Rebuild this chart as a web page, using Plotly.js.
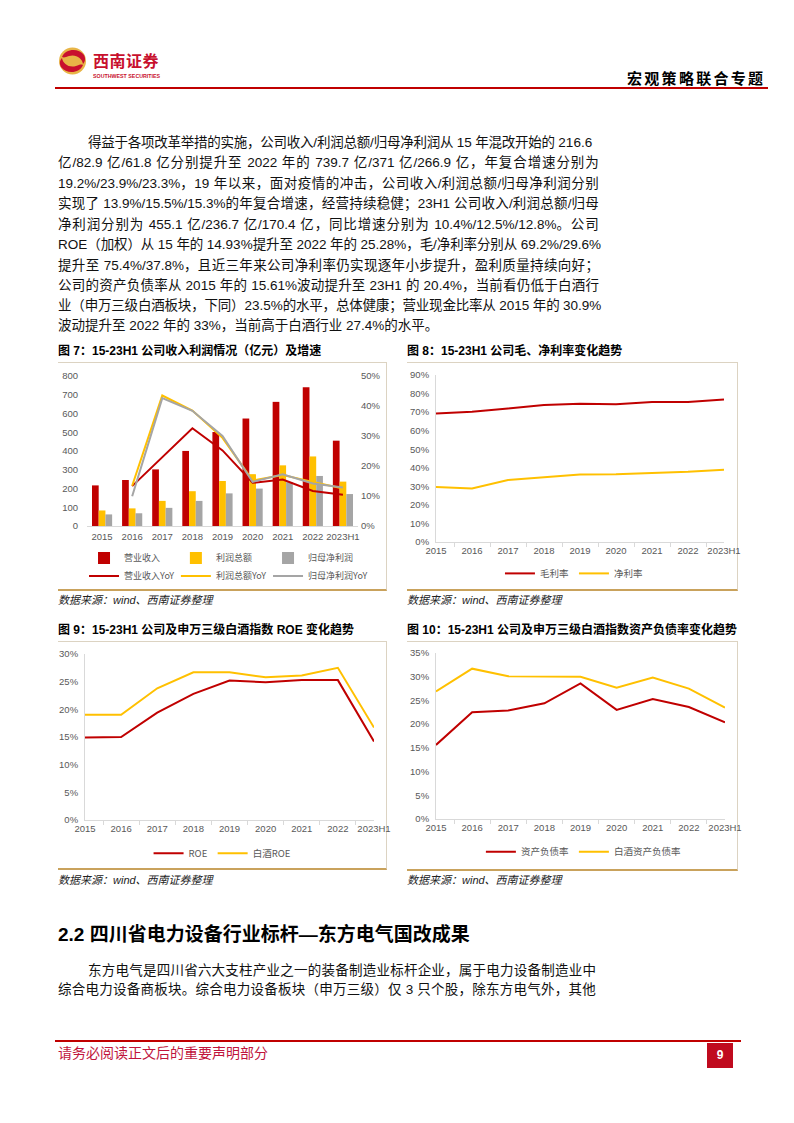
<!DOCTYPE html>
<html><head><meta charset="utf-8">
<script src="https://cdn.plot.ly/plotly-3.0.1.min.js"></script>
<style>
body{margin:0;width:794px;height:1123px;position:relative;background:#fff;overflow:hidden;font-family:"Liberation Sans","Noto Sans CJK SC",sans-serif;color:#111}
.abs{position:absolute}
.tl{position:absolute;white-space:pre;font-size:13.5px;line-height:20px;height:20px;color:#111}
.ftitle{position:absolute;white-space:pre;font-size:12px;font-weight:700;line-height:16px;color:#000;font-family:"Liberation Sans","Noto Sans CJK SC",sans-serif}
.src{position:absolute;white-space:pre;font-size:11px;font-style:italic;line-height:14px;color:#222}
.box{position:absolute;border-top:1px solid #DCD3C2;border-right:1px solid #DCD3C2;border-bottom:2px solid #C9A25C;box-sizing:border-box}
.plot{position:absolute}
</style></head>
<body>
<!-- header -->
<svg class="abs" style="left:56px;top:45px" width="110" height="36" viewBox="0 0 110 36">
  <circle cx="16.5" cy="16" r="13.5" fill="#E8B547"/>
  <path d="M6,12 C9,4 22,2 28,10 C30,14 29,17 27,19 C26,13 20,9 13,11 C10,12 8,13 6,12 Z" fill="#C8102E"/>
  <path d="M27,20 C24,28 11,30 5,22 C3,18 4,15 6,13 C7,19 13,23 20,21 C23,20 25,19 27,20 Z" fill="#C8102E"/>
  <text x="37" y="22" font-family="Noto Sans CJK SC" font-weight="700" font-size="16" fill="#C8102E" letter-spacing="0.5">西南证券</text>
  <text x="37" y="33" font-family="Liberation Sans" font-weight="700" font-size="5.3" fill="#C8102E">SOUTHWEST SECURITIES</text>
</svg>
<div class="abs" style="left:627px;top:69px;font-size:15px;font-weight:700;line-height:18px;font-family:'Noto Sans CJK SC';letter-spacing:2.3px;color:#000;white-space:pre">宏观策略联合专题</div>
<div class="abs" style="left:55px;top:87px;width:713px;height:2px;background:#C00000"></div>

<!-- paragraph 1 -->
<div class="tl fit" data-l="88" data-r="592" style="top:133px">得益于各项改革举措的实施，公司收入/利润总额/归母净利润从 15 年混改开始的 216.6</div>
<div class="tl fit" data-l="58" data-r="599" style="top:153px">亿/82.9 亿/61.8 亿分别提升至 2022 年的 739.7 亿/371 亿/266.9 亿，年复合增速分别为</div>
<div class="tl fit" data-l="58" data-r="599" style="top:174px">19.2%/23.9%/23.3%，19 年以来，面对疫情的冲击，公司收入/利润总额/归母净利润分别</div>
<div class="tl fit" data-l="58" data-r="599" style="top:194px">实现了 13.9%/15.5%/15.3%的年复合增速，经营持续稳健；23H1 公司收入/利润总额/归母</div>
<div class="tl fit" data-l="58" data-r="599" style="top:215px">净利润分别为 455.1 亿/236.7 亿/170.4 亿，同比增速分别为 10.4%/12.5%/12.8%。公司</div>
<div class="tl fit" data-l="58" data-r="601" style="top:235px">ROE（加权）从 15 年的 14.93%提升至 2022 年的 25.28%，毛/净利率分别从 69.2%/29.6%</div>
<div class="tl fit" data-l="58" data-r="599" style="top:256px">提升至 75.4%/37.8%，且近三年来公司净利率仍实现逐年小步提升，盈利质量持续向好；</div>
<div class="tl fit" data-l="58" data-r="599" style="top:276px">公司的资产负债率从 2015 年的 15.61%波动提升至 23H1 的 20.4%，当前看仍低于白酒行</div>
<div class="tl fit" data-l="58" data-r="601" style="top:296px">业（申万三级白酒板块，下同）23.5%的水平，总体健康；营业现金比率从 2015 年的 30.9%</div>
<div class="tl" style="left:58px;top:316px">波动提升至 2022 年的 33%，当前高于白酒行业 27.4%的水平。</div>

<!-- figure titles -->
<div class="ftitle" style="left:58px;top:343px">图 7：15-23H1 公司收入利润情况（亿元）及增速</div>
<div class="ftitle" style="left:407px;top:343px">图 8：15-23H1 公司毛、净利率变化趋势</div>
<div class="box" style="left:58px;top:362px;width:329px;height:229px"></div>
<div class="box" style="left:407px;top:362px;width:331px;height:229px"></div>
<div id="c7" class="plot" style="left:58px;top:362px"></div>
<div id="c8" class="plot" style="left:407px;top:362px"></div>
<div class="src" style="left:58px;top:593px">数据来源：wind、西南证券整理</div>
<div class="src" style="left:407px;top:593px">数据来源：wind、西南证券整理</div>

<div class="ftitle" style="left:58px;top:622px">图 9：15-23H1 公司及申万三级白酒指数 ROE 变化趋势</div>
<div class="ftitle" style="left:407px;top:622px">图 10：15-23H1 公司及申万三级白酒指数资产负债率变化趋势</div>
<div class="box" style="left:58px;top:641px;width:329px;height:229px"></div>
<div class="box" style="left:407px;top:641px;width:331px;height:230px"></div>
<div id="c9" class="plot" style="left:58px;top:641px"></div>
<div id="c10" class="plot" style="left:407px;top:641px"></div>
<div class="src" style="left:58px;top:873px">数据来源：wind、西南证券整理</div>
<div class="src" style="left:407px;top:873px">数据来源：wind、西南证券整理</div>

<!-- section 2.2 -->
<div class="abs" style="left:58px;top:923px;font-size:19px;font-weight:700;line-height:24px;white-space:pre;color:#000;font-family:'Liberation Sans','Noto Sans CJK SC'">2.2 四川省电力设备行业标杆—东方电气国改成果</div>
<div class="tl fit" data-l="88" data-r="596" style="top:961px">东方电气是四川省六大支柱产业之一的装备制造业标杆企业，属于电力设备制造业中</div>
<div class="tl fit" data-l="58" data-r="596" style="top:980px">综合电力设备商板块。综合电力设备板块（申万三级）仅 3 只个股，除东方电气外，其他</div>

<!-- footer -->
<div class="abs" style="left:55px;top:1040px;width:686px;height:1.5px;background:#C00000"></div>
<div class="abs" style="left:58px;top:1044px;font-size:14px;line-height:18px;color:#C0143C;white-space:pre;letter-spacing:0px">请务必阅读正文后的重要声明部分</div>
<div class="abs" style="left:707px;top:1043px;width:26px;height:25px;background:#C00A1E;color:#fff;font-weight:700;font-size:12px;line-height:25px;text-align:center">9</div>

<script>
// ---------- data ----------
const years = ['2015','2016','2017','2018','2019','2020','2021','2022','2023H1'];
// 图7 (亿元)
const revenue     = [216.6,245.4,301.9,400.3,501.2,573.2,662.1,739.7,455.1];
const totalProfit = [82.9,94.0,134.0,185.6,240.1,276.5,323.5,371.0,236.7];
const netProfit   = [61.8,67.9,96.7,133.8,174.0,199.5,233.8,266.9,170.4];
// 图7 YoY (%)
const revenueYoY  = [null,13.3,23.0,32.6,25.2,14.4,15.5,11.7,10.4];
const profitYoY   = [null,13.4,43.5,38.5,29.4,15.2,17.0,14.7,12.5];
const netYoY      = [null,9.9,42.6,38.4,30.0,14.7,17.2,14.2,12.8];
// 图8 (%)
const grossMargin = [69.2,70.2,72.0,73.8,74.5,74.2,75.4,75.4,76.8];
const netMargin   = [29.6,28.8,33.4,35.1,36.4,36.5,37.0,37.8,39.0];
// 图9 (%)
const roe         = [14.93,15.0,19.4,22.8,25.2,24.9,25.3,25.28,14.2];
const liquorRoe   = [19.0,19.0,23.8,26.7,26.7,25.8,26.1,27.5,16.7];
// 图10 (%)
const debtRatio       = [15.61,22.5,22.9,24.4,28.6,23.0,25.3,23.6,20.4];
const liquorDebtRatio = [26.9,31.7,30.1,30.0,30.0,27.7,29.8,27.5,23.5];

const RED='#C00000', YEL='#FFC000', GRY='#A5A5A5';
const axisFont={family:'Liberation Sans, sans-serif',size:9.5,color:'#595959'};
const legFont={family:'Noto Sans CJK SC, sans-serif',size:9.5,color:'#595959'};
const legFont7={family:'Noto Sans CJK SC, sans-serif',size:9,color:'#595959'};
const cfg={staticPlot:true,displayModeBar:false};
const transparent='rgba(0,0,0,0)';

// ---------- 图7 ----------
function leg7(x,y){return {orientation:'h',x:x,xanchor:'left',y:y,yanchor:'middle',font:legFont7,bgcolor:transparent};}
const colX=[-0.011,0.328,0.668], row1=-0.213, row2=-0.333;
Plotly.newPlot('c7',[
  {type:'bar',name:'营业收入',x:years,y:revenue,marker:{color:RED},legend:'legend'},
  {type:'bar',name:'利润总额',x:years,y:totalProfit,marker:{color:YEL},legend:'legend2'},
  {type:'bar',name:'归母净利润',x:years,y:netProfit,marker:{color:GRY},legend:'legend3'},
  {type:'scatter',mode:'lines',name:'营业收入YoY',x:years,y:revenueYoY,yaxis:'y2',line:{color:RED,width:2},legend:'legend4'},
  {type:'scatter',mode:'lines',name:'利润总额YoY',x:years,y:profitYoY,yaxis:'y2',line:{color:YEL,width:2},legend:'legend5'},
  {type:'scatter',mode:'lines',name:'归母净利润YoY',x:years,y:netYoY,yaxis:'y2',line:{color:GRY,width:2},legend:'legend6'}
],{
  width:345,height:228,margin:{l:29,r:45,t:14,b:64,autoexpand:false},
  paper_bgcolor:transparent,plot_bgcolor:transparent,
  barmode:'group',bargap:0.33,bargroupgap:0,
  xaxis:{type:'category',showgrid:false,showline:true,linecolor:'#D9D9D9',linewidth:1,ticks:'',tickangle:0,tickfont:axisFont,ticklabelstandoff:2},
  yaxis:{range:[0,800],dtick:100,showgrid:false,zeroline:false,showline:false,tickfont:axisFont,ticklabelstandoff:8},
  yaxis2:{overlaying:'y',side:'right',range:[0,50],dtick:10,ticksuffix:'%',showgrid:false,zeroline:false,showline:false,tickfont:axisFont,ticklabelstandoff:2},
  showlegend:true,
  legend:leg7(colX[0],row1), legend2:leg7(colX[1],row1), legend3:leg7(colX[2],row1),
  legend4:leg7(colX[0],row2), legend5:leg7(colX[1],row2), legend6:leg7(colX[2],row2)
},cfg);

function lineLayout(w,h,m,yr,dt,legX,legY){
  m.autoexpand=false;
  return {
    width:w,height:h,margin:m,paper_bgcolor:transparent,plot_bgcolor:transparent,
    xaxis:{type:'category',showgrid:false,showline:true,linecolor:'#D9D9D9',linewidth:1,ticks:'outside',tickson:'boundaries',ticklen:4,tickcolor:'#D9D9D9',tickangle:0,tickfont:axisFont},
    yaxis:{range:yr,dtick:dt,ticksuffix:'%',showgrid:false,zeroline:false,showline:true,linecolor:'#D9D9D9',linewidth:1,tickfont:axisFont,ticklabelstandoff:4},
    showlegend:true,
    legend:{orientation:'h',x:legX,xanchor:'center',y:legY,yanchor:'middle',font:legFont,bgcolor:transparent}
  };
}
// ---------- 图8 ----------
Plotly.newPlot('c8',[
  {type:'scatter',mode:'lines',name:'毛利率',x:years,y:grossMargin,line:{color:RED,width:2}},
  {type:'scatter',mode:'lines',name:'净利率',x:years,y:netMargin,line:{color:YEL,width:2}}
],lineLayout(350,228,{l:29,r:33,t:13,b:48},[0,90],10,0.479,-0.188),cfg);
// ---------- 图9 ----------
Plotly.newPlot('c9',[
  {type:'scatter',mode:'lines',name:'ROE',x:years,y:roe,line:{color:RED,width:2}},
  {type:'scatter',mode:'lines',name:'白酒ROE',x:years,y:liquorRoe,line:{color:YEL,width:2}}
],lineLayout(345,228,{l:27,r:29,t:13,b:49},[0,30],5,0.476,-0.201),cfg);
// ---------- 图10 ----------
Plotly.newPlot('c10',[
  {type:'scatter',mode:'lines',name:'资产负债率',x:years,y:debtRatio,line:{color:RED,width:2}},
  {type:'scatter',mode:'lines',name:'白酒资产负债率',x:years,y:liquorDebtRatio,line:{color:YEL,width:2}}
],lineLayout(350,228,{l:29,r:32,t:12,b:50},[0,35],5,0.51,-0.197),cfg);

// ---------- justify text lines ----------
function fitLine(el){
  const L=+el.dataset.l, R=+el.dataset.r;
  el.style.left=L+'px';
  const text=el.textContent; el.textContent='';
  const spans=[]; let buf=''; let lastSpan=false;
  for(const ch of text){
    if(/[\u3000-\u9fff\uff00-\uffef ]/.test(ch)){
      if(buf){el.appendChild(document.createTextNode(buf));buf='';}
      const s=document.createElement('span');s.textContent=ch;el.appendChild(s);spans.push(s);lastSpan=true;
    } else {buf+=ch;lastSpan=false;}
  }
  if(buf) el.appendChild(document.createTextNode(buf));
  const w=el.getBoundingClientRect().width;
  const n=spans.length-(lastSpan?1:0);
  if(n<=0) return;
  const ex=(R-L-w)/n;
  spans.forEach((s,i)=>{ if(!(lastSpan&&i===spans.length-1)) s.style.marginRight=ex+'px'; });
}
function fitAll(){document.querySelectorAll('.fit').forEach(fitLine);}
if(document.fonts&&document.fonts.ready){document.fonts.ready.then(fitAll);}else{fitAll();}
</script>
</body></html>
